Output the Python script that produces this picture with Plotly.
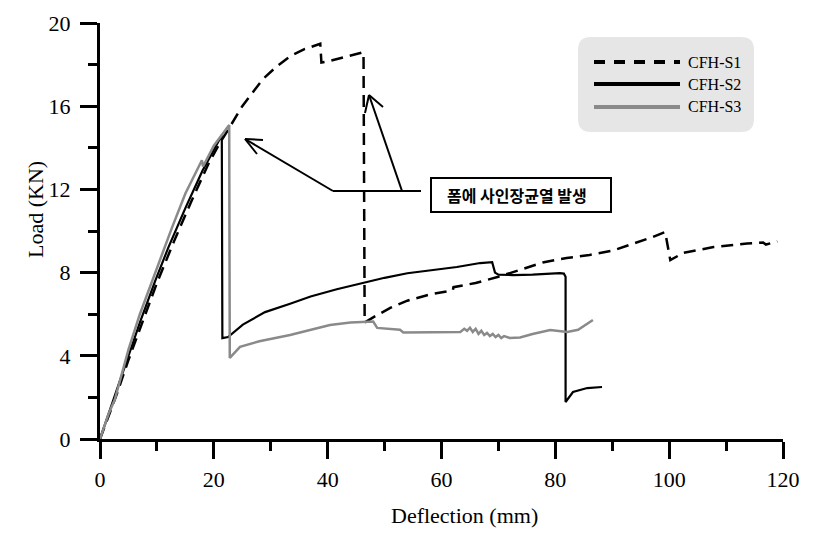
import plotly.graph_objects as go

# ---------------- data ----------------
s1_x = [0, 1.5, 3, 5, 7, 10, 13, 16, 19, 21, 22.8, 25, 28.6, 31, 33.4, 36, 38.7, 38.9, 40, 43, 46.3,
        46.5, 48, 51, 54, 58, 62, 62.1, 66, 70, 74, 78, 82, 86, 90, 94, 97, 99.3, 100.2, 102.5, 107.8,
        113.7, 116.5, 117, 119]
s1_y = [0, 1.1, 2.2, 3.8, 5.3, 7.5, 9.5, 11.4, 13.2, 14.2, 15.0, 16.0, 17.3, 17.9, 18.4, 18.75, 19.0, 18.1, 18.15, 18.35, 18.6,
        5.6, 5.85, 6.3, 6.65, 6.95, 7.15, 7.3, 7.5, 7.8, 8.15, 8.5, 8.7, 8.85, 9.05, 9.4, 9.7, 9.95, 8.6, 8.95, 9.23,
        9.4, 9.45, 9.35, 9.5]

s2_x = [0, 1.5, 3, 5, 7, 9.7, 12, 15, 18, 20, 21.4, 21.5, 22.5, 25.1, 29, 33.4, 37, 41.6, 46.9, 50, 54, 58,
        62.7, 66.8, 68.9, 69.4, 70, 72.6, 76, 80.8, 81.5, 81.8, 81.8, 83.1, 85.6, 88.2]
s2_y = [0, 1.2, 2.5, 4.1, 5.6, 7.6, 9.2, 11.1, 12.9, 13.9, 14.6, 4.85, 4.9, 5.5, 6.1, 6.5, 6.85, 7.2, 7.55, 7.75, 7.97, 8.1,
        8.27, 8.46, 8.5, 8.0, 7.9, 7.88, 7.9, 7.97, 7.95, 7.8, 1.78, 2.26, 2.45, 2.5]

s3_x = [0, 1.5, 2.6, 5, 7, 9, 12.7, 15, 17.9, 18.1, 20, 22.7, 22.8, 24.6, 28, 33.4, 37, 40.4, 44, 46.9, 48, 48.7,
        52.7, 53.3, 59.2, 63.3, 64.0, 64.5, 65.0, 65.5, 66.0, 66.5, 67, 67.5, 68, 68.5, 69, 69.5, 70, 70.5, 71,
        72, 73.8, 76, 79.1, 82.1, 84, 86.6]
s3_y = [0, 1.2, 1.9, 4.3, 6.0, 7.5, 10.2, 11.8, 13.4, 13.1, 14.1, 15.1, 3.9, 4.43, 4.7, 5.0, 5.25, 5.48, 5.6, 5.65, 5.65, 5.34,
        5.25, 5.12, 5.15, 5.15, 5.3, 5.2, 5.35, 5.15, 5.3, 5.05, 5.2, 5.0, 5.1, 4.95, 5.05, 4.9, 5.0, 4.85, 4.95,
        4.86, 4.88, 5.05, 5.24, 5.15, 5.25, 5.72]

series_names = ["CFH-S1", "CFH-S2", "CFH-S3"]
x_ticks = [0, 20, 40, 60, 80, 100, 120]
y_ticks = [0, 4, 8, 12, 16, 20]
note_text = "폼에 사인장균열 발생"

# ---------------- styles ----------------
SERIF = "Liberation Serif, Times New Roman, serif"
KR = "Noto Sans CJK KR, sans-serif"
GRAY = "#8a8a8a"
styles = [
    dict(color="black", width=2.5, dash="12px,7px"),
    dict(color="black", width=2.2, dash="solid"),
    dict(color=GRAY, width=2.5, dash="solid"),
]

OFF = 8  # page body margin
W, H = 810, 541
L, T = 100 - OFF, 23 - OFF
PW, PH = 683, 416
R, B = W - L - PW, H - T - PH
X0S, Y0S = 100, 439  # screen pixel of data origin


def dx(px):  # screen pixel -> data x
    return (px - X0S) / PW * 120


def dy(py):  # screen pixel -> data y
    return (Y0S - py) / PH * 20


def pxp(px):
    return (px - X0S) / PW


def pyp(py):
    return (Y0S - py) / PH


fig = go.Figure()
for name, xs, ys, st in zip(series_names, [s1_x, s2_x, s3_x], [s1_y, s2_y, s3_y], styles):
    fig.add_trace(go.Scatter(x=xs, y=ys, mode="lines", name=name, line=st, showlegend=False))

shapes = []
annotations = []

# custom legend with rounded background
x0, x1, yt, yb = pxp(578), pxp(754), pyp(37), pyp(132)
rx, ry = 13 / PW, 13 / PH
path = (f"M{x0+rx},{yt} L{x1-rx},{yt} Q{x1},{yt} {x1},{yt-ry} L{x1},{yb+ry} Q{x1},{yb} {x1-rx},{yb} "
        f"L{x0+rx},{yb} Q{x0},{yb} {x0},{yb+ry} L{x0},{yt-ry} Q{x0},{yt} {x0+rx},{yt} Z")
shapes.append(dict(type="path", xref="paper", yref="paper", path=path, fillcolor="#e6e6e6",
                   line=dict(width=0), layer="below"))
leg_dash = ["11px,9px", "solid", "solid"]
for i, (name, st) in enumerate(zip(series_names, styles)):
    rowy = pyp([62, 84, 107][i])
    shapes.append(dict(type="line", xref="paper", yref="paper", x0=pxp(594), x1=pxp(680), y0=rowy, y1=rowy,
                       line=dict(color=st["color"], width=4, dash=leg_dash[i])))
    annotations.append(dict(xref="paper", yref="paper", x=pxp(686), y=rowy, text=name, showarrow=False,
                            xanchor="left", yanchor="middle", font=dict(family=SERIF, size=16, color="black")))

# note box with arrows
line_st = dict(color="black", width=2)
shapes.append(dict(type="rect", xref="x", yref="y", x0=dx(431), x1=dx(611), y0=dy(212), y1=dy(178),
                   line=line_st, fillcolor="white"))
annotations.append(dict(xref="x", yref="y", x=dx(517), y=dy(195), text=f"<b>{note_text}</b>", showarrow=False,
                        xanchor="center", yanchor="middle", font=dict(family=KR, size=16, color="black")))
segs = [
    ((333, 191), (421, 191)),
    ((333, 191), (245, 139)), ((245, 139), (263, 140)), ((245, 139), (257, 154)),
    ((402, 191), (369, 95)), ((369, 95), (365, 113)), ((369, 95), (383, 107)),
]
for (ax_, ay_), (bx_, by_) in segs:
    shapes.append(dict(type="line", xref="x", yref="y", x0=dx(ax_), y0=dy(ay_), x1=dx(bx_), y1=dy(by_),
                       line=line_st))

# axis titles
annotations.append(dict(xref="paper", yref="paper", x=pxp(464), y=pyp(515), text="Deflection (mm)",
                        showarrow=False, xanchor="center", yanchor="middle",
                        font=dict(family=SERIF, size=22, color="black")))
annotations.append(dict(xref="paper", yref="paper", x=pxp(36), y=pyp(210), text="Load (KN)", textangle=-90,
                        showarrow=False, xanchor="center", yanchor="middle",
                        font=dict(family=SERIF, size=22, color="black")))

axis_common = dict(showgrid=False, zeroline=False, showline=True, linecolor="black", linewidth=3,
                   ticks="outside", ticklen=17, tickwidth=3, tickcolor="black",
                   tickfont=dict(family=SERIF, size=22, color="black"), mirror=False)

fig.update_layout(
    width=W, height=H, margin=dict(l=L, r=R, t=T, b=B, autoexpand=False),
    paper_bgcolor="white", plot_bgcolor="white",
    xaxis=dict(range=[0, 120], tickvals=x_ticks, ticktext=[str(v) for v in x_ticks],
               minor=dict(dtick=10, tick0=0, ticks="outside", ticklen=9, tickwidth=3, tickcolor="black"),
               ticklabelstandoff=2, **axis_common),
    yaxis=dict(range=[0, 20], tickvals=y_ticks, ticktext=[str(v) for v in y_ticks],
               minor=dict(dtick=2, tick0=0, ticks="outside", ticklen=9, tickwidth=3, tickcolor="black"),
               ticklabelstandoff=5, **axis_common),
    shapes=shapes, annotations=annotations, showlegend=False,
)

fig.write_html("out.html")
